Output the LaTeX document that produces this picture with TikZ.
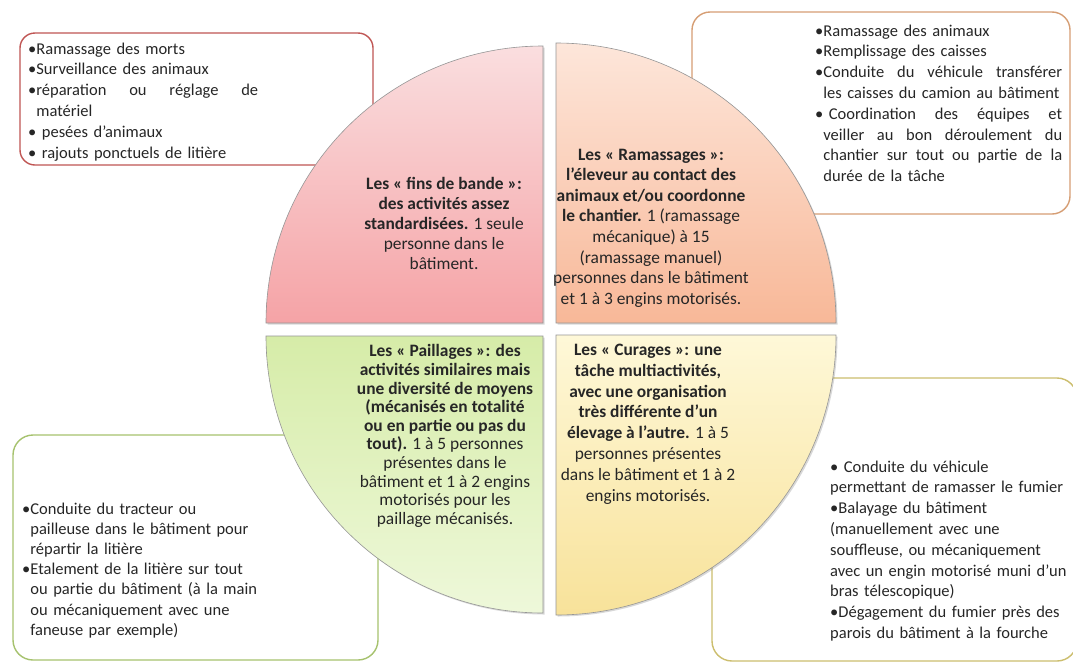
\documentclass[tikz,border=0pt]{standalone}
\usepackage{fontspec}
\setmainfont{Carlito}
\usetikzlibrary{shadows}
\definecolor{redline}{RGB}{192,86,84}
\definecolor{orangeline}{RGB}{214,158,116}
\definecolor{greenline}{RGB}{166,194,110}
\definecolor{goldline}{RGB}{204,190,110}
\definecolor{quadline}{RGB}{150,150,150}
\definecolor{tltop}{RGB}{250,222,223}
\definecolor{tlbot}{RGB}{245,163,166}
\definecolor{trtop}{RGB}{253,230,218}
\definecolor{trbot}{RGB}{248,184,152}
\definecolor{bltop}{RGB}{214,236,168}
\definecolor{blbot}{RGB}{238,248,218}
\definecolor{brtop}{RGB}{254,248,216}
\definecolor{brbot}{RGB}{248,226,154}
\definecolor{txt}{RGB}{38,38,38}
\newlength\bulw
\newcommand\jl[2]{\makebox[#1][l]{#2}}
\newcommand\jli[2]{\settowidth{\bulw}{•}\phantom{•}\makebox[\dimexpr#1-\bulw\relax][l]{#2}}
\newcommand\ind{\phantom{•}}
\begin{document}
\begin{tikzpicture}[x=1pt,y=-1pt,
  boxtxt/.style={anchor=base west, inner sep=0pt, align=left, text=txt,
    text width=300pt, font=\fontsize{16.5}{20.8}\selectfont},
  quadtxt/.style={anchor=center, inner sep=0pt, align=center, text=txt},
  quad/.style={draw=quadline, line width=0.6pt,
    drop shadow={opacity=0.3, shadow xshift=1.5pt, shadow yshift=-1.5pt}},
  frame/.style={line width=1.4pt, fill=white}]
\clip (0,0) rectangle (1073,662);
\fill[white] (0,0) rectangle (1073,662);

% outer boxes
\draw[frame, draw=redline, rounded corners=15pt] (20,33) rectangle (373,165);
\draw[frame, draw=orangeline, rounded corners=18pt] (692,12) rectangle (1070,214);
\draw[frame, draw=greenline, rounded corners=20pt] (13,435) rectangle (378,660);
\draw[frame, draw=goldline, rounded corners=20pt] (712,378) rectangle (1077,661);

% quadrants
\path[quad, top color=tltop, bottom color=tlbot]
  (543,323) -- (266,323) arc[start angle=180, end angle=90, radius=277pt] -- cycle;
\path[quad, top color=trtop, bottom color=trbot]
  (556,323) -- (556,43) arc[start angle=90, end angle=0, radius=280pt] -- cycle;
\path[quad, top color=bltop, bottom color=blbot]
  (543,336) -- (543,613) arc[start angle=270, end angle=180, radius=277pt] -- cycle;
\path[quad, top color=brtop, bottom color=brbot]
  (556,335) -- (836,335) arc[start angle=0, end angle=-90, radius=280pt] -- cycle;

% quadrant texts
\node[quadtxt, font=\fontsize{17.4}{20}\selectfont] (qtl) at (444,223) {\textbf{Les « fins de bande »:}\\
  \textbf{des activités assez}\\
  \textbf{standardisées.} 1 seule\\
  personne dans le\\
  bâtiment.};
\node[quadtxt, font=\fontsize{17.4}{20.6}\selectfont] (qtr) at (651,228) {\textbf{Les « Ramassages »:}\\
  \textbf{l’éleveur au contact des}\\
  \textbf{animaux et/ou coordonne}\\
  \textbf{le chantier.} 1 (ramassage\\
  mécanique) à 15\\
  (ramassage manuel)\\
  personnes dans le bâtiment\\
  et 1 à 3 engins motorisés.};
\node[quadtxt, font=\fontsize{17.4}{18.6}\selectfont] (qbl) at (445,436) {\textbf{Les « Paillages »: des}\\
  \textbf{activités similaires mais}\\
  \textbf{une diversité de moyens}\\
  \textbf{(mécanisés en totalité}\\
  \textbf{ou en partie ou pas du}\\
  \textbf{tout).} 1 à 5 personnes\\
  présentes dans le\\
  bâtiment et 1 à 2 engins\\
  motorisés pour les\\
  paillage mécanisés.};
\node[quadtxt, font=\fontsize{17.4}{20.8}\selectfont] (qbr) at (648,424) {\textbf{Les « Curages »: une}\\
  \textbf{tâche multiactivités,}\\
  \textbf{avec une organisation}\\
  \textbf{très différente d’un}\\
  \textbf{élevage à l’autre.} 1 à 5\\
  personnes présentes\\
  dans le bâtiment et 1 à 2\\
  engins motorisés.};

% box texts
\node[boxtxt] (ttl) at (28,54) {•Ramassage des morts\\
  •Surveillance des animaux\\
  \jl{230pt}{•réparation\hfill ou\hfill réglage\hfill de}\\
  \ind matériel\\
  • pesées d’animaux\\
  • rajouts ponctuels de litière};
\node[boxtxt] (ttr) at (815,36) {•Ramassage des animaux\\
  •Remplissage des caisses\\
  \jl{247pt}{•Conduite\hfill du\hfill véhicule\hfill transférer}\\
  \ind les caisses du camion au bâtiment\\
  \jl{247pt}{• Coordination\hfill des\hfill équipes\hfill et}\\
  \jli{247pt}{veiller\hfill au\hfill bon\hfill déroulement\hfill du}\\
  \jli{247pt}{chantier\hfill sur\hfill tout\hfill ou\hfill partie\hfill de\hfill la}\\
  \ind durée de la tâche};
\node[boxtxt, font=\fontsize{16.5}{20.2}\selectfont] (tbl) at (22,514) {•Conduite du tracteur ou\\
  \ind pailleuse dans le bâtiment pour\\
  \ind répartir la litière\\
  •Etalement de la litière sur tout\\
  \ind ou partie du bâtiment (à la main\\
  \ind ou mécaniquement avec une\\
  \ind faneuse par exemple)};
\node[boxtxt] (tbr) at (830,472) {• Conduite du véhicule\\
  permettant de ramasser le fumier\\
  •Balayage du bâtiment\\
  (manuellement avec une\\
  souffleuse, ou mécaniquement\\
  avec un engin motorisé muni d’un\\
  bras télescopique)\\
  •Dégagement du fumier près des\\
  parois du bâtiment à la fourche};
\end{tikzpicture}
\end{document}
